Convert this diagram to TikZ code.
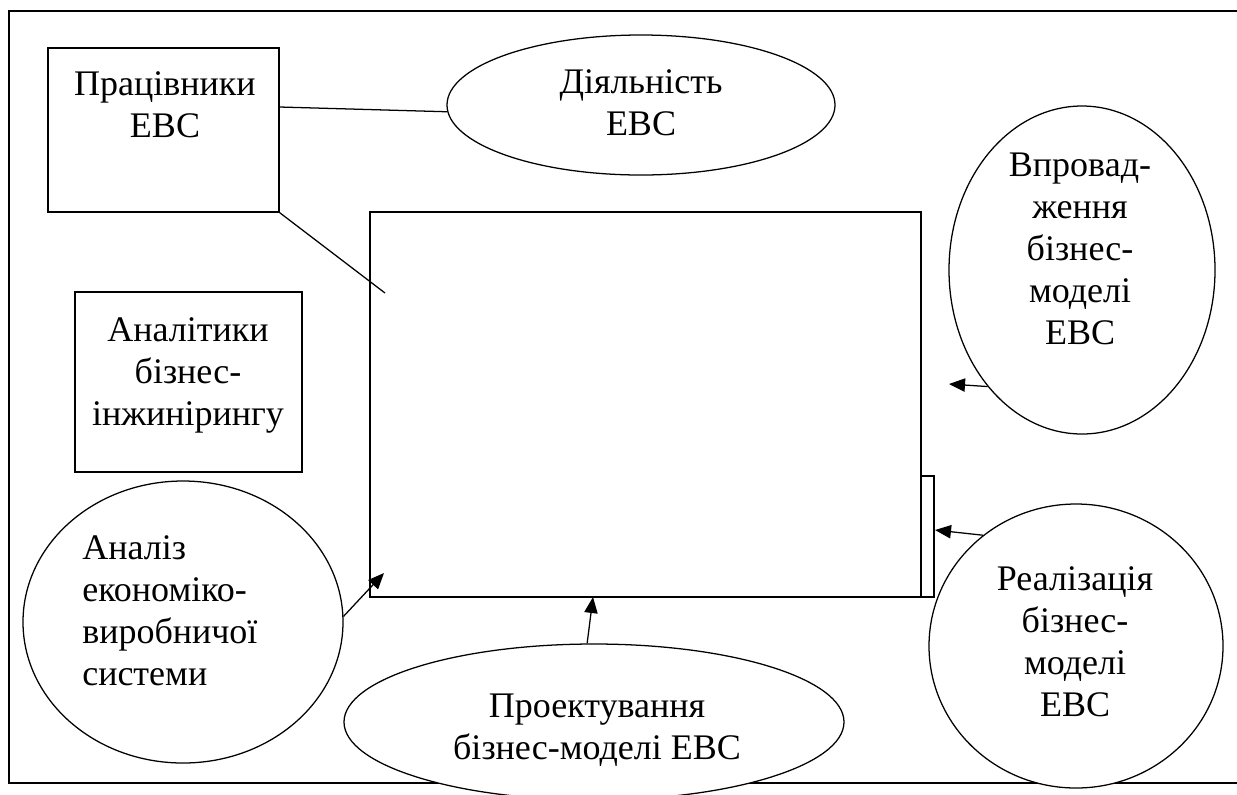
\documentclass[tikz,border=0pt]{standalone}
\usepackage{fontspec}
\setmainfont{Liberation Serif}
\usetikzlibrary{shapes.geometric,arrows.meta}
\begin{document}
\begin{tikzpicture}[x=0.75pt,y=-0.75pt,
  shapeline/.style={draw=black,line width=0.95pt,fill=white,inner sep=0pt},
  boxshape/.style={shapeline,rectangle},
  ellshape/.style={shapeline,ellipse},
  lbl/.style={inner sep=0pt,font=\fontsize{27}{31.5}\selectfont},
  conn/.style={line width=0.95pt},
  arr/.style={conn,-{Triangle[length=12pt,width=10pt]}}]
\useasboundingbox (0,0) rectangle (1237,794);
\clip (0,0) rectangle (1237,794);
% outer frame
\draw[line width=1.5pt] (1260,11) -- (9,11) -- (9,783) -- (1260,783);
% shapes
\node[boxshape,minimum width=173.25pt,minimum height=123pt] (prac) at (163.5,130) {};
\node[ellshape,minimum width=291pt,minimum height=105pt] (dial) at (641,105) {};
\node[boxshape,minimum width=413.25pt,minimum height=288.75pt] (main) at (645.5,404.5) {};
\node[boxshape,minimum width=9.75pt,minimum height=90.75pt] (side) at (927.5,536.5) {};
\node[boxshape,minimum width=170.25pt,minimum height=135pt] (anal) at (188.5,382) {};
\node[ellshape,minimum width=240pt,minimum height=211.5pt] (aeks) at (183,622) {};
\node[ellshape,minimum width=375pt,minimum height=117pt] (proj) at (594,722) {};
\node[ellshape,minimum width=199.5pt,minimum height=246pt] (vpr) at (1082,270) {};
\node[ellshape,minimum width=220.5pt,minimum height=213pt] (real) at (1076,646) {};
% texts
\node[lbl,align=center] (tprac) at (165,105) {Працівники\\ЕВС};
\node[lbl,align=center] (tdial) at (641,103) {Діяльність\\ЕВС};
\node[lbl,align=center] (tanal) at (188,375) {Аналітики\\бізнес-\\інжинірингу};
\node[lbl,align=left,anchor=west] (taeks) at (82,611) {Аналіз\\економіко-\\виробничої\\системи};
\node[lbl,align=center] (tproj) at (597,730) {Проектування\\бізнес-моделі ЕВС};
\node[lbl,align=center] (tvpr) at (1080,249) {Впровад-\\ження\\бізнес-\\моделі\\ЕВС};
\node[lbl,align=center] (treal) at (1075,642) {Реалізація\\бізнес-\\моделі\\ЕВС};
% connector ends
\coordinate (dEnd) at (385,293);
\coordinate (tipV) at (949,384);
\coordinate (tipR) at (935,530);
\coordinate (tipA) at (384,573);
\coordinate (tipP) at (593,597);
% connectors
\draw[conn] (prac.east |- 0,107) -- (dial.182);
\draw[conn] (prac.south east) -- (dEnd);
\draw[arr] (vpr.231) -- (tipV);
\draw[arr] (real.130) -- (tipR);
\draw[arr] (aeks.2) -- (tipA);
\draw[arr] (proj.95) -- (tipP);
\end{tikzpicture}
\end{document}
